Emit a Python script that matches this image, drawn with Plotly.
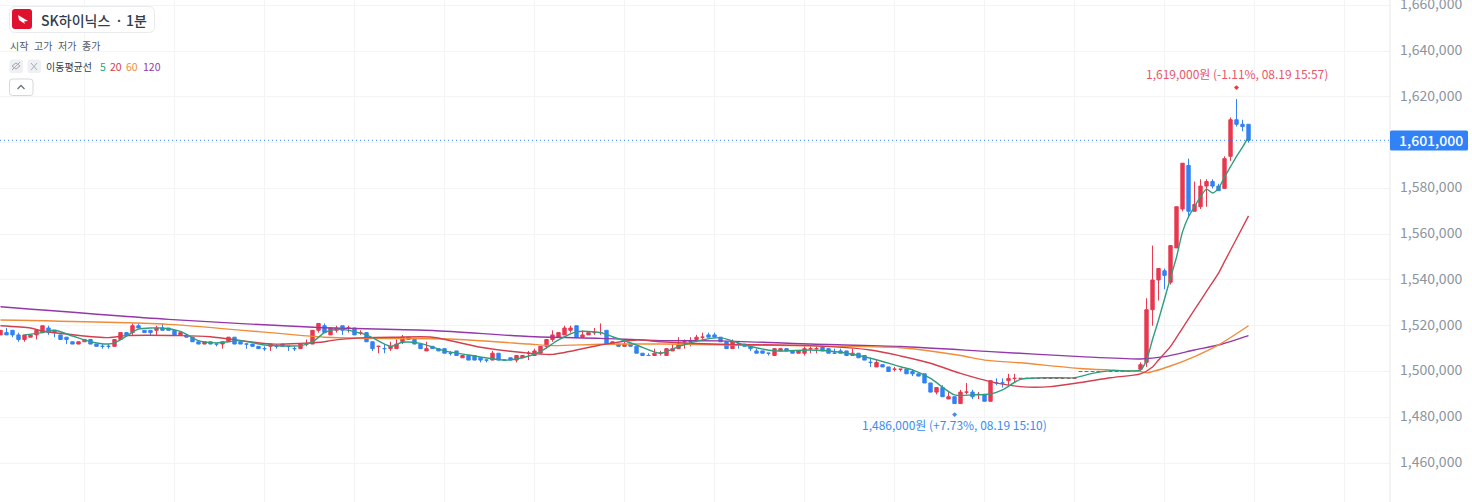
import numpy as np
import plotly.graph_objects as go

W, H = 1472, 502
AXIS_X = 1390  # price axis starts here
KR = "Noto Sans CJK KR"

RED = "#e8384f"
BLUE = "#3182f6"
GREEN = "#2f9e7e"
MA_RED = "#d2404f"
ORANGE = "#f08c3a"
PURPLE = "#9438a8"

# prices, in thousand won, one per 1 minute candle
opens = [1516,1517,1518,1516,1514,1515,1516,1517,1519,1518,1516,1515,1513,1512,1513,1514,1512,1511,1511,1511,
         1514,1517,1517,1520,1518,1518,1518,1519,1519,1518,1516,1516,1515,1513,1512,1513,1512,1512,1513,1515,
         1513,1512,1512,1511,1510,1511,1511,1512,1511,1510,1510,1512,1512,1518,1520,1516,1518,1520,1519,1519,
         1517,1517,1513,1511,1510,1510,1510,1513,1515,1514,1512,1509,1511,1510,1510,1508,1509,1506,1507,1507,
         1506,1505,1505,1508,1505,1506,1505,1506,1508,1507,1508,1511,1514,1515,1516,1518,1520,1515,1516,1517,
         1517,1518,1512,1512,1511,1512,1511,1508,1507,1507,1508,1507,1509,1510,1513,1513,1514,1515,1516,1516,
         1515,1513,1510,1512,1512,1511,1509,1509,1508,1507,1509,1510,1509,1508,1508,1510,1510,1511,1510,1508,
         1509,1509,1507,1508,1507,1504,1502,1503,1502,1501,1501,1501,1500,1499,1499,1495,1491,1493,1488,1489,
         1486,1491,1491,1490,1490,1487,1495,1495,1496,1497,1497,1497,1497,1497,1497,1497,1497,1497,1497,1497,
         1500,1500,1500,1500,1500,1500,1500,1500,1500,1500,1501,1504,1527,1540,1544,1539,1554,1571,1590,1570,
         1572,1581,1583,1581,1580,1594,1610,1608,1608]
highs = [1518,1519,1518,1517,1516,1516,1518,1520,1520,1518,1516,1515,1513,1513,1514,1514,1512,1512,1512,1514,
         1517,1517,1521,1521,1518,1518,1520,1521,1519,1518,1517,1516,1515,1513,1513,1513,1512,1513,1515,1515,
         1513,1512,1512,1511,1511,1512,1512,1512,1511,1511,1512,1514,1518,1521,1521,1519,1520,1520,1520,1519,
         1518,1517,1513,1511,1512,1513,1514,1516,1515,1514,1512,1513,1511,1510,1510,1509,1509,1507,1507,1507,
         1506,1505,1509,1508,1505,1506,1507,1507,1509,1510,1511,1514,1518,1517,1520,1520,1520,1518,1517,1519,
         1521,1518,1513,1512,1514,1512,1511,1508,1508,1510,1509,1510,1512,1515,1514,1515,1516,1517,1517,1517,
         1515,1513,1514,1513,1512,1511,1510,1509,1508,1510,1510,1510,1509,1509,1511,1511,1511,1511,1510,1510,
         1510,1509,1510,1508,1507,1506,1505,1503,1502,1502,1501,1501,1501,1499,1499,1495,1493,1494,1491,1489,
         1492,1495,1492,1491,1490,1496,1497,1497,1499,1499,1497,1497,1497,1497,1497,1497,1497,1497,1497,1497,
         1500,1500,1500,1500,1500,1500,1500,1500,1500,1500,1504,1532,1555,1545,1545,1555,1572,1591,1593,1583,
         1584,1584,1584,1582,1594,1611,1619,1610,1608]
lows = [1516,1516,1515,1513,1513,1515,1514,1517,1516,1515,1514,1512,1512,1512,1513,1512,1511,1510,1510,1511,
        1514,1516,1516,1519,1517,1516,1516,1518,1518,1516,1516,1515,1513,1512,1512,1512,1511,1510,1513,1512,
        1512,1510,1511,1510,1509,1509,1510,1511,1509,1509,1510,1511,1512,1517,1517,1516,1517,1516,1517,1516,
        1516,1513,1509,1508,1508,1509,1510,1512,1514,1512,1510,1509,1510,1509,1508,1507,1507,1506,1505,1505,
        1504,1504,1505,1505,1505,1505,1504,1506,1505,1507,1508,1510,1513,1515,1516,1517,1515,1515,1516,1516,
        1516,1512,1512,1511,1511,1511,1508,1507,1507,1507,1507,1507,1509,1510,1510,1511,1513,1514,1515,1515,
        1513,1510,1510,1510,1511,1509,1508,1508,1507,1507,1509,1509,1508,1508,1507,1508,1508,1509,1508,1508,
        1508,1507,1507,1506,1505,1502,1502,1502,1500,1500,1500,1499,1498,1498,1495,1491,1490,1489,1488,1486,
        1486,1490,1488,1488,1487,1487,1494,1493,1494,1495,1497,1497,1497,1497,1497,1497,1497,1497,1497,1497,
        1500,1500,1500,1500,1500,1500,1500,1500,1500,1500,1500,1502,1520,1531,1536,1538,1554,1570,1567,1570,
        1571,1572,1580,1579,1580,1592,1607,1605,1600]
closes = [1518,1516,1516,1514,1516,1516,1518,1520,1517,1517,1514,1514,1512,1513,1514,1512,1511,1511,1511,1514,
          1517,1516,1520,1519,1517,1517,1519,1518,1518,1516,1517,1515,1513,1512,1513,1512,1512,1513,1515,1512,
          1512,1512,1511,1510,1510,1512,1511,1511,1511,1510,1512,1512,1518,1521,1517,1519,1519,1518,1519,1516,
          1517,1513,1510,1511,1510,1511,1512,1515,1514,1512,1510,1510,1510,1509,1508,1508,1507,1507,1505,1505,
          1505,1505,1508,1505,1505,1505,1507,1507,1508,1509,1511,1514,1516,1517,1519,1519,1515,1516,1517,1517,
          1517,1512,1513,1511,1512,1511,1508,1507,1507,1508,1508,1510,1510,1512,1513,1513,1515,1515,1515,1515,
          1513,1510,1513,1512,1511,1510,1508,1508,1508,1510,1510,1509,1508,1509,1510,1510,1510,1509,1508,1508,
          1508,1507,1508,1506,1505,1504,1504,1502,1500,1501,1501,1499,1499,1498,1495,1491,1493,1489,1489,1486,
          1491,1491,1489,1490,1487,1496,1495,1495,1497,1497,1497,1497,1497,1497,1497,1497,1497,1497,1497,1497,
          1500,1500,1500,1500,1500,1500,1500,1500,1500,1500,1503,1527,1540,1545,1542,1555,1572,1591,1570,1573,
          1581,1583,1581,1579,1593,1610,1608,1607,1601]

# moving averages, read at the candle positions in the *_x lists
ma5_x = [4,7,9,12,15,18,19,21,23,27,30,33,36,40,44,50,52,54,55,57,61,65,67,70,74,78,84,87,90,93,96,100,102,106,
         110,113,117,120,124,129,135,140,145,150,152,155,159,162,165,167,170,175,179,182,185,190,191,192,193,195,196,197,198,
         199,200,201,202,203,204,205,206,207,208]
ma5 = [1516,1517,1518,1515.5,1513,1512,1512.5,1515.5,1518.5,1519,1517.5,1513.5,1512.5,1513.5,1511.6,1511.3,1513,1517,1518,1518.4,
       1516,1511,1512.8,1512.3,1509,1507.2,1505,1506,1508.7,1513.8,1517.4,1517,1515.2,1511.6,1508,1510.9,1513.8,1514.8,1511.6,1509,
       1509.4,1508.4,1505.8,1502.1,1500.7,1497,1489.8,1489.8,1490.2,1492,1496.6,1497.3,1497.3,1499.2,1500.4,1500.7,1505,1514,1522.5,
       1541,1550,1561,1567.6,1572,1576.4,1579.7,1578,1580,1585,1589.5,1594,1598,1602.6]
ma20_x = [0,5,7,18,21,30,35,45,50,54,55,61,66,72,80,87,92,100,106,110,120,135,145,150,155,160,165,170,175,180,185,190,192,193,195,197,199,201,203,204,206,208]
ma20 = [1520,1519,1517.7,1514.8,1515.7,1515.7,1515.2,1512,1512.3,1513,1513.5,1514.8,1515,1515,1510.6,1508.3,1507.5,1511.6,1513.8,1513,
        1511.9,1511.3,1509.4,1506.8,1503.6,1499.2,1495.6,1493.4,1493.4,1495.2,1497.3,1499,1502,1505,1511,1519,1527,1535,1543,1548,1558,1568]
ma60_x = [0,28,54,61,75,88,92,100,110,122,135,150,160,164,170,180,187,190,191,195,199,203,208]
ma60 = [1522.5,1520.6,1515,1514.5,1514.2,1512,1511.3,1511.9,1512,1511.6,1511.2,1510.4,1507,1505,1503.8,1501.3,1500.4,1500,1499.4,1502.4,1506.5,1511.6,1520]
ma120_x = [0,28,53,72,88,100,110,120,135,150,165,180,190,194,199,203,208]
ma120 = [1528.3,1522.8,1519.2,1517.9,1515.3,1514.5,1513.5,1513.4,1512,1510.9,1508.7,1506.5,1505.5,1506.5,1509.4,1511.6,1515.7]

price_ticks = list(range(1460, 1661, 20))
last_price = 1601
max_label = "1,619,000원 (-1.11%, 08.19 15:57)"
min_label = "1,486,000원 (+7.73%, 08.19 15:10)"
max_candle, max_price = 206, 1619
min_candle, min_price = 159, 1486


def won(values):
    return np.array(values) * 1000


def px(x):
    return x / AXIS_X


def py(y):
    return 1 - y / H


def rrect(x0, y0, x1, y1, r, fill, line=None):
    a, b, c, d = px(x0), py(y0), px(x1), py(y1)
    rx, ry = px(r), r / H
    path = (f"M{a+rx},{b} L{c-rx},{b} Q{c},{b} {c},{b-ry} L{c},{d+ry} Q{c},{d} {c-rx},{d} "
            f"L{a+rx},{d} Q{a},{d} {a},{d+ry} L{a},{b-ry} Q{a},{b} {a+rx},{b} Z")
    return dict(type="path", xref="paper", yref="paper", path=path, fillcolor=fill,
                line=dict(color=line or fill, width=1 if line else 0), layer="above")


def seg(points, color, width=1.2):
    d = "M" + " L".join(f"{px(x)},{py(y)}" for x, y in points)
    return dict(type="path", xref="paper", yref="paper", path=d, line=dict(color=color, width=width), layer="above")


def label(x, y, text, size=10, color="#4e5968", anchor="left", weight=400):
    return dict(xref="paper", yref="paper", x=px(x), y=py(y), text=text, showarrow=False, xanchor=anchor,
                yanchor="middle", align=anchor, font=dict(family=KR, size=size, color=color, weight=weight),
                borderpad=0, borderwidth=0)


fig = go.Figure()
fig.add_trace(go.Candlestick(
    x=list(range(len(opens))), open=won(opens), high=won(highs), low=won(lows), close=won(closes),
    increasing=dict(line=dict(color=RED, width=1), fillcolor=RED),
    decreasing=dict(line=dict(color=BLUE, width=1), fillcolor=BLUE),
    whiskerwidth=0, showlegend=False,
))
for xs, ys, color in [(ma120_x, ma120, PURPLE), (ma60_x, ma60, ORANGE), (ma20_x, ma20, MA_RED), (ma5_x, ma5, GREEN)]:
    fig.add_trace(go.Scatter(x=xs, y=won(ys), mode="lines", showlegend=False,
                             line=dict(color=color, width=1.4, shape="spline", smoothing=0.7)))

shapes = [
    dict(type="line", xref="paper", x0=0, x1=1, yref="y", y0=last_price * 1000, y1=last_price * 1000,
         line=dict(color=BLUE, width=1, dash="1px,3px")),
    dict(type="line", xref="paper", x0=1, x1=1, yref="paper", y0=0, y1=1, line=dict(color="#e5e8eb", width=1)),
    # price tag on the axis
    rrect(1390, 130.5, 1468, 150.5, 1.5, BLUE),
    # symbol box
    rrect(9.5, 6.5, 154.5, 32.5, 6, "white", "#e8eaed"),
    rrect(12, 9, 32, 29, 3, "#e0102f"),
    dict(type="path", xref="paper", yref="paper", fillcolor="white", line=dict(width=0), layer="above",
         path=f"M{px(18)},{py(15)} L{px(28)},{py(21)} L{px(24)},{py(21.5)} L{px(25)},{py(24)} L{px(19)},{py(20)} Z"),
    # indicator row
    rrect(9.5, 59.5, 23, 73, 2.5, "#eef0f3"),
    rrect(27.5, 59.5, 41, 73, 2.5, "#eef0f3"),
    seg([(12, 66), (16, 63), (20, 66), (16, 69), (12, 66)], "#a2a9b1", 1),
    seg([(12, 70), (20, 62)], "#a2a9b1", 1),
    seg([(31, 63), (37, 70)], "#a8aeb6", 1),
    seg([(37, 63), (31, 70)], "#a8aeb6", 1),
    # collapse button
    rrect(9.5, 79, 33, 95.5, 3, "white", "#d5d8dc"),
    seg([(17.5, 89), (21, 85.5), (24.5, 89)], "#6b7684", 1.3),
]

annotations = [
    label(40.5, 20, "SK하이닉스", 14, "#333d4b", weight=500),
    label(115, 20, "·", 14, "#333d4b", weight=500),
    label(126, 20, "1분", 14, "#333d4b", weight=500),
    label(10, 45.5, "시작", 10), label(33.5, 45.5, "고가", 10), label(57.5, 45.5, "저가", 10), label(82, 45.5, "종가", 10),
    label(46, 66, "이동평균선", 10, "#333d4b"),
    label(100, 66, "5", 10.5, GREEN), label(110, 66, "20", 10.5, MA_RED),
    label(126, 66, "60", 10.5, ORANGE), label(143, 66, "120", 10.5, PURPLE),
    label(1431, 140, "1,601,000", 14, "white", "center", weight=500),
    # high and low callouts
    dict(x=max_candle, y=max_price * 1000, text="◆", showarrow=False, yshift=13,
         font=dict(family=KR, size=5, color=RED), yanchor="middle"),
    dict(x=max_candle, y=max_price * 1000, text=max_label, showarrow=False, yshift=26,
         font=dict(family=KR, size=12, color="#e9566a"), yanchor="middle"),
    dict(x=min_candle, y=min_price * 1000, text="◆", showarrow=False, yshift=-10,
         font=dict(family=KR, size=5, color="#3c8cf0"), yanchor="middle"),
    dict(x=min_candle, y=min_price * 1000, text=min_label, showarrow=False, yshift=-21,
         font=dict(family=KR, size=12, color="#3c8cf0"), yanchor="middle"),
]

fig.update_layout(
    width=W, height=H, autosize=False,
    margin=dict(l=0, r=W - AXIS_X, t=0, b=0, pad=0),
    paper_bgcolor="white", plot_bgcolor="white",
    font=dict(family=KR),
    boxgap=0.2, hovermode=False,
    shapes=shapes, annotations=annotations,
    xaxis=dict(range=[-0.083, 231.58], rangeslider=dict(visible=False), showticklabels=False,
               showgrid=True, gridcolor="#f2f4f6", gridwidth=1, tick0=14, dtick=15, zeroline=False, ticks=""),
    yaxis=dict(range=[1443000, 1662300], side="right", tickvals=won(price_ticks), tickformat=",",
               showgrid=True, gridcolor="#f2f4f6", gridwidth=1, zeroline=False, ticks="", ticklabelstandoff=9,
               ticklabeloverflow="allow", ticklabelshift=-1,
               tickfont=dict(family=KR, size=14, color="#8b95a1"), automargin=False),
)

fig.write_html("out.html", post_script="document.body.style.margin='0';", config=dict(displayModeBar=False))
